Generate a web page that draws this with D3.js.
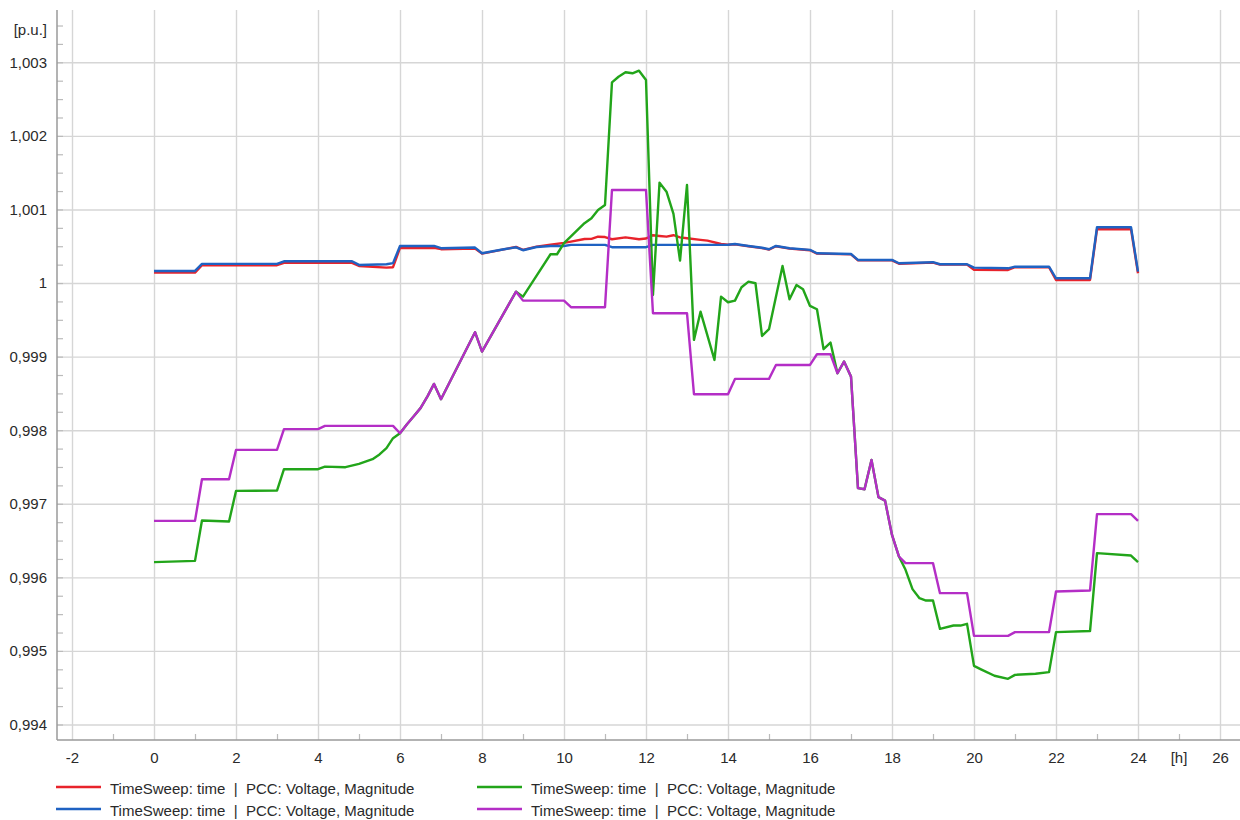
<!DOCTYPE html>
<html>
<head>
<meta charset="utf-8">
<script src="https://cdn.jsdelivr.net/npm/d3@7"></script>
<style>
  body { margin: 0; background: #fff; }
  text { font-family: "Liberation Sans", Arial, sans-serif; }
</style>
</head>
<body>
<div id="app"></div>
<script>
// values: [hour, p.u.]
const redPts = [
  [0, 1.000141], [1.0, 1.000141], [1.17, 1.000242], [3.0, 1.000242], [3.17, 1.000275],
  [4.83, 1.000275], [5.0, 1.000232], [5.67, 1.000209], [5.83, 1.000215], [6.0, 1.000477],
  [6.83, 1.000477], [7.0, 1.000460], [7.83, 1.000470], [8.0, 1.000400], [8.5, 1.000455],
  [8.83, 1.000490], [9.0, 1.000450], [9.33, 1.000495], [9.67, 1.000520], [10.0, 1.000545],
  [10.17, 1.000563], [10.5, 1.000599], [10.67, 1.000600], [10.83, 1.000630], [11.0, 1.000625],
  [11.17, 1.000595], [11.5, 1.000620], [11.83, 1.000595], [12.0, 1.000605], [12.17, 1.000650],
  [12.33, 1.000640], [12.5, 1.000630], [12.67, 1.000650], [12.83, 1.000620], [13.0, 1.000609],
  [13.33, 1.000586], [13.5, 1.000576], [13.83, 1.000531], [14.0, 1.000520], [14.17, 1.000525],
  [14.5, 1.000500], [14.83, 1.000475], [15.0, 1.000455], [15.17, 1.000500], [15.5, 1.000468],
  [16.0, 1.000445], [16.17, 1.000400], [17.0, 1.000390], [17.17, 1.000308], [18.0, 1.000308],
  [18.17, 1.000262], [19.0, 1.000278], [19.17, 1.000250], [19.83, 1.000250], [20.0, 1.000180],
  [20.83, 1.000178], [21.0, 1.000215], [21.83, 1.000215], [22.0, 1.000042], [22.83, 1.000042],
  [23.0, 1.000731], [23.83, 1.000731], [24.0, 1.000133]
];
const bluePts = [
  [0, 1.000164], [1.0, 1.000164], [1.17, 1.000260], [3.0, 1.000260], [3.17, 1.000296],
  [4.83, 1.000296], [5.0, 1.000246], [5.67, 1.000255], [5.83, 1.000270], [6.0, 1.000504],
  [6.83, 1.000504], [7.0, 1.000473], [7.83, 1.000482], [8.0, 1.000405], [8.5, 1.000455],
  [8.83, 1.000486], [9.0, 1.000446], [9.33, 1.000490], [9.67, 1.000504], [10.0, 1.000504],
  [10.17, 1.000518], [11.0, 1.000518], [11.17, 1.000487], [12.0, 1.000487], [12.17, 1.000518],
  [13.83, 1.000518], [14.0, 1.000520], [14.17, 1.000531], [14.5, 1.000504], [14.83, 1.000480],
  [15.0, 1.000459], [15.17, 1.000504], [15.5, 1.000473], [16.0, 1.000450], [16.17, 1.000405],
  [17.0, 1.000395], [17.17, 1.000314], [18.0, 1.000314], [18.17, 1.000269], [19.0, 1.000283],
  [19.17, 1.000255], [19.83, 1.000255], [20.0, 1.000209], [20.83, 1.000200], [21.0, 1.000222],
  [21.83, 1.000222], [22.0, 1.000065], [22.83, 1.000065], [23.0, 1.000758], [23.83, 1.000758],
  [24.0, 1.000155]
];
const greenPts = [
  [0, 0.996207], [1.0, 0.996224], [1.17, 0.996772], [1.83, 0.996758], [2.0, 0.997175],
  [3.0, 0.997179], [3.17, 0.997470], [4.0, 0.997470], [4.17, 0.997505], [4.67, 0.997497],
  [5.0, 0.997542], [5.33, 0.997606], [5.5, 0.997670], [5.67, 0.997755], [5.83, 0.997891],
  [6.0, 0.997959], [6.17, 0.998080], [6.33, 0.998185], [6.5, 0.998300], [6.67, 0.998460],
  [6.83, 0.998629], [7.0, 0.998421], [7.83, 0.999332], [8.0, 0.999068], [8.83, 0.999883],
  [9.0, 0.999815], [9.67, 1.000391], [9.83, 1.000391], [10.0, 1.000541], [10.5, 1.000813],
  [10.67, 1.000880], [10.83, 1.000993], [11.0, 1.001061], [11.17, 1.002728], [11.33, 1.002804],
  [11.5, 1.002864], [11.67, 1.002851], [11.83, 1.002886], [12.0, 1.002760], [12.17, 0.999838],
  [12.33, 1.001364], [12.5, 1.001242], [12.67, 1.000939], [12.83, 1.000304], [13.0, 1.001333],
  [13.17, 0.999227], [13.33, 0.999611], [13.67, 0.998955], [13.83, 0.999815], [14.0, 0.999739],
  [14.17, 0.999761], [14.33, 0.999943], [14.5, 1.000019], [14.67, 0.999997], [14.83, 0.999281],
  [15.0, 0.999372], [15.33, 1.000232], [15.5, 0.999780], [15.67, 0.999974], [15.83, 0.999916],
  [16.0, 0.999689], [16.17, 0.999644], [16.33, 0.999101], [16.5, 0.999190], [16.67, 0.998774],
  [16.83, 0.998932], [17.0, 0.998728], [17.17, 0.997212], [17.33, 0.997198], [17.5, 0.997596],
  [17.67, 0.997090], [17.83, 0.997043], [18.0, 0.996577], [18.17, 0.996283], [18.33, 0.996102],
  [18.5, 0.995840], [18.67, 0.995717], [18.83, 0.995685], [19.0, 0.995685], [19.17, 0.995300],
  [19.5, 0.995345], [19.67, 0.995345], [19.83, 0.995368], [20.0, 0.994797], [20.17, 0.994750],
  [20.5, 0.994662], [20.83, 0.994621], [21.0, 0.994675], [21.5, 0.994689], [21.83, 0.994712],
  [22.0, 0.995255], [22.83, 0.995270], [23.0, 0.996329], [23.83, 0.996296], [24.0, 0.996207]
];
const magentaPts = [
  [0, 0.996768], [1.0, 0.996768], [1.17, 0.997334], [1.83, 0.997334], [2.0, 0.997732],
  [3.0, 0.997732], [3.17, 0.998014], [4.0, 0.998014], [4.17, 0.998058], [5.83, 0.998058],
  [6.0, 0.997959], [6.17, 0.998080], [6.33, 0.998185], [6.5, 0.998300], [6.67, 0.998460],
  [6.83, 0.998629], [7.0, 0.998421], [7.83, 0.999332], [8.0, 0.999068], [8.83, 0.999883],
  [9.0, 0.999761], [10.0, 0.999761], [10.17, 0.999671], [11.0, 0.999671], [11.17, 1.001265],
  [12.0, 1.001265], [12.17, 0.999590], [13.0, 0.999590], [13.17, 0.998489], [14.0, 0.998489],
  [14.17, 0.998697], [15.0, 0.998697], [15.17, 0.998887], [16.0, 0.998887], [16.17, 0.999032],
  [16.5, 0.999032], [16.67, 0.998774], [16.83, 0.998932], [17.0, 0.998728], [17.17, 0.997212],
  [17.33, 0.997198], [17.5, 0.997596], [17.67, 0.997090], [17.83, 0.997043], [18.0, 0.996577],
  [18.17, 0.996283], [18.33, 0.996193], [19.0, 0.996193], [19.17, 0.995785], [19.83, 0.995785],
  [20.0, 0.995205], [20.83, 0.995205], [21.0, 0.995255], [21.83, 0.995255], [22.0, 0.995807],
  [22.83, 0.995821], [23.0, 0.996859], [23.83, 0.996859], [24.0, 0.996768]
];

const xTicks = [-2, 0, 2, 4, 6, 8, 10, 12, 14, 16, 18, 20, 22, 24, 26];
const yTicks = [0.994, 0.995, 0.996, 0.997, 0.998, 0.999, 1.000, 1.001, 1.002, 1.003];
const legendLabel = "TimeSweep: time  |  PCC: Voltage, Magnitude";

const series = [
  { pts: redPts, color: "#e8232b" },
  { pts: bluePts, color: "#1f62c2" },
  { pts: greenPts, color: "#22a51a" },
  { pts: magentaPts, color: "#b42ec6" }
];

const W = 1240, H = 820;
const plotL = 57, plotR = 1240, plotT = 10, plotB = 740;
const fs = 15;
const txtCol = "#2a2a2a";

const svg = d3.select("#app").append("svg")
  .attr("width", W)
  .attr("height", H)
  .style("display", "block")

const x = d3.scaleLinear().domain([-2, 26]).range([72, 1220]);
const y = d3.scaleLinear().domain([0.994, 1.003]).range([724.5, 62.3]);

const fmtY = d => d3.format(".3~f")(d).replace(".", ",");

// y grid + labels
const yAxis = svg.append("g")
  .attr("transform", "translate(" + plotL + ",0)")
  .call(d3.axisLeft(y).tickValues(yTicks).tickSize(-(plotR - plotL)).tickPadding(10).tickFormat(fmtY));
yAxis.select(".domain").remove();
yAxis.selectAll(".tick line").attr("stroke", "#d6d6d6").attr("stroke-width", 1.4);
yAxis.selectAll(".tick text").attr("font-size", fs).attr("fill", txtCol)
  .attr("font-family", "'Liberation Sans', Arial, sans-serif");

// x grid + labels
const xAxis = svg.append("g")
  .attr("transform", "translate(0," + plotB + ")")
  .call(d3.axisBottom(x).tickValues(xTicks).tickSize(-(plotB - plotT)).tickPadding(12).tickFormat(d => String(d)));
xAxis.select(".domain").remove();
xAxis.selectAll(".tick line").attr("stroke", "#d6d6d6").attr("stroke-width", 1.4);
xAxis.selectAll(".tick text").attr("font-size", fs).attr("fill", txtCol)
  .attr("font-family", "'Liberation Sans', Arial, sans-serif");

// minor ticks
const yMinor = d3.range(0, 40).map(i => 0.99375 + i * 0.00025).filter(v => y(v) >= plotT && y(v) <= plotB);
svg.append("g")
  .attr("transform", "translate(" + plotL + ",0)")
  .call(d3.axisRight(y).tickValues(yMinor).tickSize(6).tickFormat(""))
  .call(g => g.select(".domain").remove())
  .selectAll("line").attr("stroke", "#bbb").attr("stroke-width", 1.2);

const xMinor = d3.range(-1, 27, 2);
svg.append("g")
  .attr("transform", "translate(0," + plotB + ")")
  .call(d3.axisTop(x).tickValues(xMinor).tickSize(6).tickFormat(""))
  .call(g => g.select(".domain").remove())
  .selectAll("line").attr("stroke", "#bbb").attr("stroke-width", 1.2);

// axis lines
svg.append("line").attr("x1", plotL).attr("x2", plotL).attr("y1", plotT).attr("y2", plotB)
  .attr("stroke", "#9a9a9a").attr("stroke-width", 1.5);
svg.append("line").attr("x1", plotL).attr("x2", plotR).attr("y1", plotB).attr("y2", plotB)
  .attr("stroke", "#9a9a9a").attr("stroke-width", 1.5);

// units
svg.append("text").attr("x", plotL - 10).attr("y", 35).attr("text-anchor", "end")
  .attr("font-size", fs).attr("fill", txtCol).text("[p.u.]");
svg.append("text").attr("x", x(25)).attr("y", plotB + 23).attr("text-anchor", "middle")
  .attr("font-size", fs).attr("fill", txtCol).text("[h]");

// curves
const line = d3.line().x(d => x(d[0])).y(d => y(d[1]));
svg.append("g").selectAll("path")
  .data(series)
  .enter()
  .append("path")
  .attr("d", d => line(d.pts))
  .attr("fill", "none")
  .attr("stroke", d => d.color)
  .attr("stroke-width", 2.4)
  .attr("stroke-linejoin", "round");

// legend
const legPos = [[56, 787], [477, 787], [56, 809], [477, 809]];
const legOrder = [0, 2, 1, 3];
legOrder.forEach((si, i) => {
  const p = legPos[i];
  svg.append("line").attr("x1", p[0]).attr("x2", p[0] + 45).attr("y1", p[1]).attr("y2", p[1])
    .attr("stroke", series[si].color).attr("stroke-width", 2.6);
  svg.append("text").attr("x", p[0] + 54).attr("y", p[1] + 6.5)
    .attr("font-size", fs).attr("fill", txtCol)
    .style("white-space", "pre")
    .text(legendLabel);
});
</script>
</body>
</html>
